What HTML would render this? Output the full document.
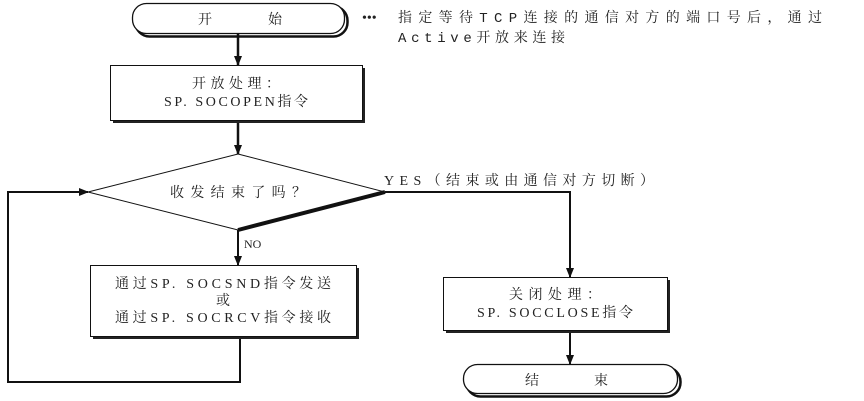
<!DOCTYPE html>
<html><head><meta charset="utf-8"><style>
body{margin:0;background:#fff}
svg{display:block}
text{font-family:"Liberation Serif","Noto Serif CJK SC",serif;font-size:14px;fill:#222}
.m{font-family:"Liberation Mono","Noto Serif CJK SC",monospace}
</style></head><body>
<svg width="864" height="401" viewBox="0 0 864 401" xmlns="http://www.w3.org/2000/svg">
<defs><marker id="a" markerWidth="10" markerHeight="10" refX="9" refY="5" orient="auto" markerUnits="userSpaceOnUse"><path d="M0,1 L10,5 L0,9 Z" fill="#111"/></marker></defs>
<g stroke="#111" fill="none">
<rect x="135.5" y="6.5" width="212" height="30" rx="14" stroke-width="2.5"/>
<rect x="132.5" y="3.5" width="212" height="30" rx="14" fill="#fff" stroke-width="1.3"/>
<rect x="113" y="68" width="252" height="55" fill="#222" stroke="none"/>
<rect x="110.5" y="65.5" width="252" height="55" fill="#fff" stroke-width="1"/>
<line x1="238" y1="34" x2="238" y2="65" stroke-width="2.5" marker-end="url(#a)"/>
<line x1="238" y1="123" x2="238" y2="154" stroke-width="2.5" marker-end="url(#a)"/>
<path d="M238,154 L385,192 L238,230 L88,192 Z" fill="#fff" stroke-width="1"/>
<path d="M385,192 L238,230" stroke-width="4"/>
<line x1="238" y1="230" x2="238" y2="265" stroke-width="2" marker-end="url(#a)"/>
<rect x="93" y="268" width="266" height="71" fill="#222" stroke="none"/>
<rect x="90.5" y="265.5" width="266" height="71" fill="#fff" stroke-width="1"/>
<path d="M240,339 L240,382 L8,382 L8,192 L88,192" stroke-width="2" marker-end="url(#a)"/>
<path d="M385,192 L570,192 L570,277" stroke-width="2" marker-end="url(#a)"/>
<rect x="446" y="280" width="224" height="53" fill="#222" stroke="none"/>
<rect x="443.5" y="277.5" width="224" height="53" fill="#fff" stroke-width="1"/>
<line x1="570" y1="333" x2="570" y2="364" stroke-width="2" marker-end="url(#a)"/>
<rect x="466.5" y="367.5" width="214" height="29" rx="14" stroke-width="2.5"/>
<rect x="463.5" y="364.5" width="214" height="29" rx="14" fill="#fff" stroke-width="1.3"/>
</g>
<text x="198" y="24">开</text><text x="268" y="24">始</text>
<text x="362" y="22" style="font-size:14px">•••</text>
<text x="398" y="22" class="m" textLength="424" lengthAdjust="spacing">指定等待TCP连接的通信对方的端口号后，通过</text>
<text x="398" y="42" class="m" textLength="167" lengthAdjust="spacing">Active开放来连接</text>
<text x="236" y="88" text-anchor="middle" textLength="88" lengthAdjust="spacing">开放处理：</text>
<text x="236" y="106" text-anchor="middle" textLength="144" lengthAdjust="spacing">SP. SOCOPEN指令</text>
<text x="238" y="197" text-anchor="middle" textLength="136" lengthAdjust="spacing">收发结束了吗？</text>
<text x="244" y="248" style="font-size:12px">NO</text>
<text x="384" y="185" textLength="270" lengthAdjust="spacing">YES（结束或由通信对方切断）</text>
<text x="223" y="288" text-anchor="middle" textLength="216" lengthAdjust="spacing">通过SP. SOCSND指令发送</text>
<text x="223" y="305" text-anchor="middle">或</text>
<text x="223" y="322" text-anchor="middle" textLength="216" lengthAdjust="spacing">通过SP. SOCRCV指令接收</text>
<text x="555" y="299" text-anchor="middle" textLength="92" lengthAdjust="spacing">关闭处理：</text>
<text x="555" y="317" text-anchor="middle" textLength="156" lengthAdjust="spacing">SP. SOCCLOSE指令</text>
<text x="525" y="385">结</text><text x="594" y="385">束</text>
</svg>
</body></html>
